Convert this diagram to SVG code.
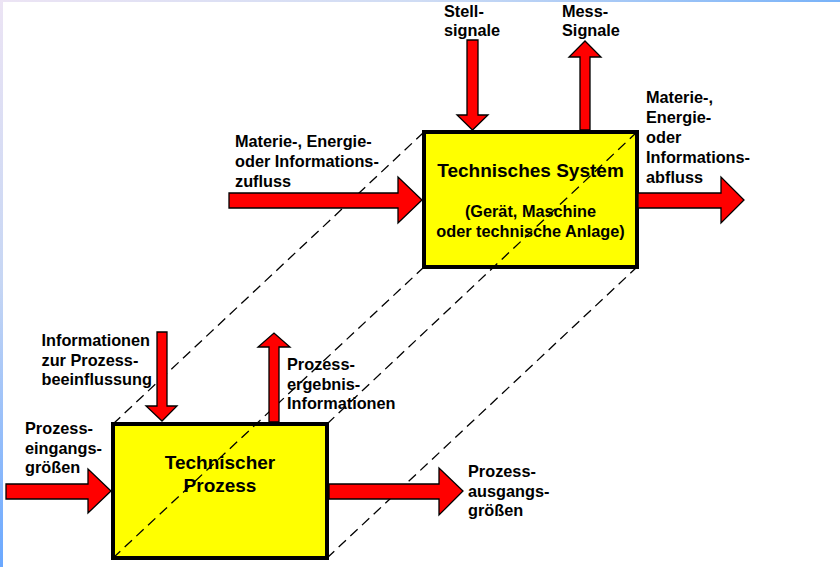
<svg xmlns="http://www.w3.org/2000/svg" width="840" height="567" viewBox="0 0 840 567">
  <defs>
    <linearGradient id="edgeTop" x1="0" y1="0" x2="1" y2="0">
      <stop offset="0" stop-color="#ece4f4"/>
      <stop offset="0.5" stop-color="#cfdcf4"/>
      <stop offset="1" stop-color="#78b2f8"/>
    </linearGradient>
    <linearGradient id="edgeLeft" x1="0" y1="0" x2="0" y2="1">
      <stop offset="0" stop-color="#ece4f4"/>
      <stop offset="0.5" stop-color="#c6d6f4"/>
      <stop offset="1" stop-color="#6aa8ff"/>
    </linearGradient>
    <style>
      .box { fill: #ffff00; stroke: #000; stroke-width: 4; }
      .dash { fill: none; stroke: #000; stroke-width: 1.3; stroke-dasharray: 10 6; }
      .arrow { fill: #ff0000; stroke: #000; stroke-width: 1.3; stroke-linejoin: miter; }
      .lbl { font-family: "Liberation Sans", Arial, sans-serif; font-weight: bold; font-size: 16.3px; fill: #000; }
      .title { font-family: "Liberation Sans", Arial, sans-serif; font-weight: bold; font-size: 19px; fill: #000; text-anchor: middle; }
      .sub { text-anchor: middle; }
    </style>
  </defs>

  <!-- page background with slide edges -->
  <rect x="0" y="0" width="840" height="567" fill="#ffffff"/>
  <rect x="0" y="0" width="840" height="2" fill="url(#edgeTop)"/>
  <rect x="0" y="0" width="3" height="567" fill="url(#edgeLeft)"/>

  <!-- technical system (upper) -->
  <g id="technisches-system">
    <rect class="box" x="424" y="132" width="213" height="135"/>
  </g>

  <!-- technical process (lower) -->
  <g id="technischer-prozess">
    <rect class="box" x="113" y="424" width="214" height="134"/>
  </g>

  <!-- dashed projection edges between the two boxes -->
  <g id="projection">
    <line class="dash" x1="113" y1="424" x2="424" y2="132"/>
    <line class="dash" x1="327" y1="424" x2="637" y2="132"/>
    <line class="dash" x1="113" y1="558" x2="424" y2="267"/>
    <line class="dash" x1="327" y1="558" x2="637" y2="267"/>
  </g>

  <!-- flow arrows -->
  <g id="connectors">
    <!-- inflow into system -->
    <polygon class="arrow" points="229,193 398,193 398,177 422,200 398,223 398,208 229,208"/>
    <!-- outflow from system -->
    <polygon class="arrow" points="638,193 721,193 721,177 744,200 721,223 721,208 638,208"/>
    <!-- Stellsignale (down) -->
    <polygon class="arrow" points="467,40 478,40 478,115 488,115 472.5,130 457,115 467,115"/>
    <!-- Mess-Signale (up) -->
    <polygon class="arrow" points="580,130 580,57 569,57 585,41 601,57 590,57 590,130"/>
    <!-- process influence (down) -->
    <polygon class="arrow" points="157,332 167,332 167,406 177,406 162,421 146,406 157,406"/>
    <!-- process result (up) -->
    <polygon class="arrow" points="269,422 269,347 258,347 274,333 290,347 279,347 279,422"/>
    <!-- process input -->
    <polygon class="arrow" points="6,484 88,484 88,469 111,491 88,513 88,499 6,499"/>
    <!-- process output -->
    <polygon class="arrow" points="329,484 439,484 439,468 463,491 439,515 439,499 329,499"/>
  </g>

  <!-- node titles -->
  <g id="system-label">
    <text class="title" x="530.5" y="177">Technisches System</text>
    <text class="lbl sub" x="530.5" y="217">(Gerät, Maschine</text>
    <text class="lbl sub" x="530.5" y="237">oder technische Anlage)</text>
  </g>
  <g id="process-label">
    <text class="title" x="220" y="469">Technischer</text>
    <text class="title" x="220" y="492">Prozess</text>
  </g>

  <!-- flow labels -->
  <g id="labels">
    <text class="lbl" x="444" y="17">Stell-</text>
    <text class="lbl" x="444" y="36">signale</text>

    <text class="lbl" x="562" y="17">Mess-</text>
    <text class="lbl" x="562" y="36">Signale</text>

    <text class="lbl" x="646" y="103">Materie-,</text>
    <text class="lbl" x="646" y="123">Energie-</text>
    <text class="lbl" x="646" y="143">oder</text>
    <text class="lbl" x="646" y="163">Informations-</text>
    <text class="lbl" x="646" y="183">abfluss</text>

    <text class="lbl" x="235" y="146.5">Materie-, Energie-</text>
    <text class="lbl" x="235" y="166.5">oder Informations-</text>
    <text class="lbl" x="235" y="186.5">zufluss</text>

    <text class="lbl" x="41.5" y="346">Informationen</text>
    <text class="lbl" x="41.5" y="365.5">zur Prozess-</text>
    <text class="lbl" x="41.5" y="385">beeinflussung</text>

    <text class="lbl" x="287" y="370">Prozess-</text>
    <text class="lbl" x="287" y="389.5">ergebnis-</text>
    <text class="lbl" x="287" y="409">Informationen</text>

    <text class="lbl" x="25" y="434">Prozess-</text>
    <text class="lbl" x="25" y="453.5">eingangs-</text>
    <text class="lbl" x="25" y="473">größen</text>

    <text class="lbl" x="468" y="477">Prozess-</text>
    <text class="lbl" x="468" y="496.5">ausgangs-</text>
    <text class="lbl" x="468" y="516">größen</text>
  </g>
</svg>
